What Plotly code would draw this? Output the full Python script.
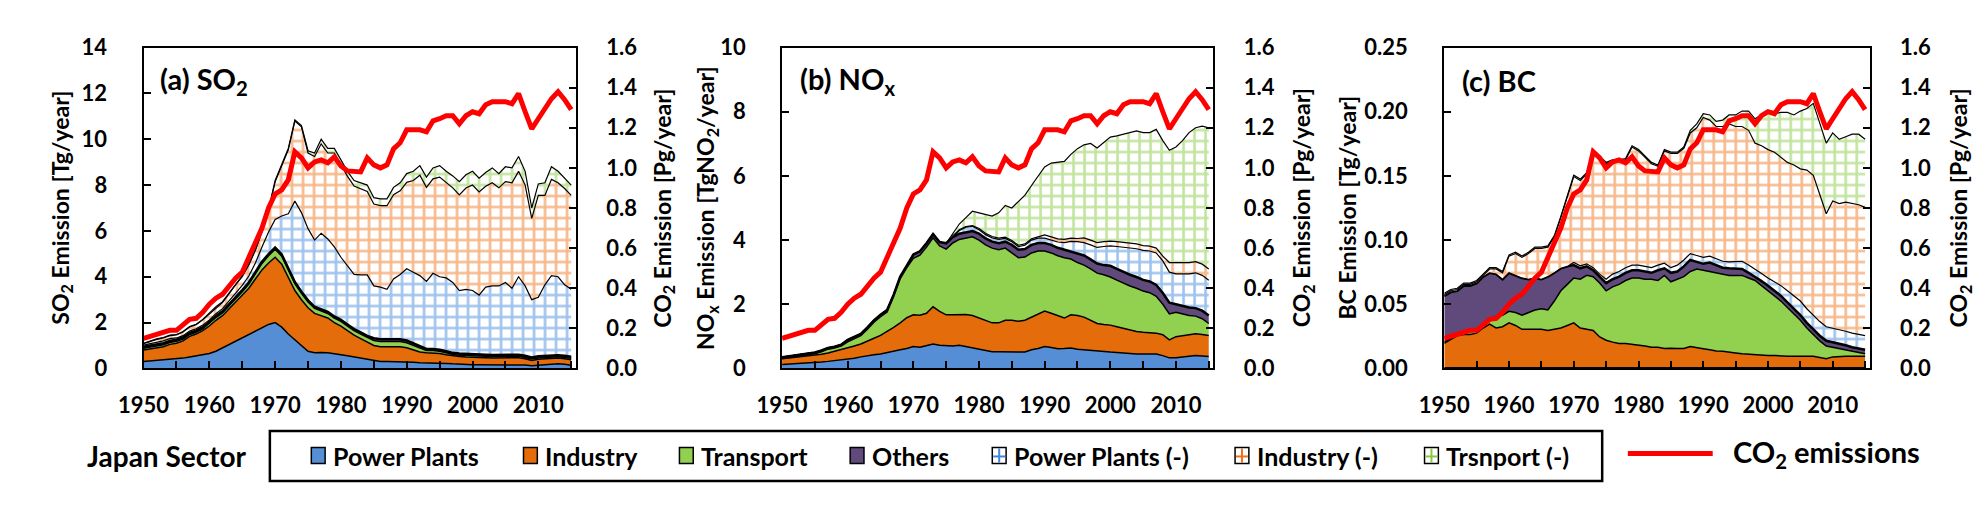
import plotly.graph_objects as go

# ---- data ----
years = list(range(1950, 2016))

# CO2 emissions, Pg/year (same curve in all three panels)
co2_pg = [0.15, 0.16, 0.17, 0.18, 0.19, 0.19, 0.215, 0.245, 0.25, 0.28,
          0.32, 0.35, 0.37, 0.41, 0.45, 0.48, 0.55, 0.62, 0.70, 0.80,
          0.87, 0.89, 0.94, 1.08, 1.05, 1.00, 1.03, 1.04, 1.025, 1.055,
          1.01, 0.985, 0.985, 0.98, 1.05, 1.015, 1.00, 1.015, 1.095, 1.125,
          1.19, 1.19, 1.19, 1.18, 1.235, 1.245, 1.26, 1.26, 1.22, 1.26,
          1.28, 1.27, 1.315, 1.33, 1.33, 1.33, 1.32, 1.37, 1.28, 1.195,
          1.245, 1.30, 1.345, 1.38, 1.34, 1.29]

# SO2, Tg/year
so2_power = [0.30, 0.32, 0.35, 0.38, 0.40, 0.42, 0.45, 0.50, 0.55, 0.60,
             0.65, 0.75, 0.90, 1.05, 1.20, 1.35, 1.50, 1.65, 1.80, 1.92,
             2.00, 1.80, 1.50, 1.25, 1.00, 0.75, 0.68, 0.70, 0.68, 0.65,
             0.60, 0.55, 0.50, 0.45, 0.40, 0.32, 0.30, 0.30, 0.30, 0.30,
             0.30, 0.27, 0.25, 0.25, 0.24, 0.23, 0.22, 0.20, 0.18, 0.17,
             0.16, 0.16, 0.16, 0.15, 0.15, 0.15, 0.15, 0.17, 0.15, 0.12,
             0.14, 0.15, 0.18, 0.20, 0.18, 0.14]
so2_industry = [0.50, 0.53, 0.55, 0.57, 0.65, 0.68, 0.75, 0.90, 0.95, 1.05,
                1.20, 1.35, 1.40, 1.55, 1.70, 1.85, 2.00, 2.25, 2.50, 2.68,
                2.85, 2.75, 2.50, 2.15, 2.00, 1.90, 1.72, 1.60, 1.52, 1.35,
                1.25, 1.10, 0.95, 0.85, 0.75, 0.68, 0.65, 0.65, 0.65, 0.65,
                0.60, 0.53, 0.47, 0.43, 0.44, 0.42, 0.38, 0.35, 0.34, 0.33,
                0.34, 0.32, 0.31, 0.31, 0.31, 0.30, 0.30, 0.30, 0.27, 0.23,
                0.26, 0.27, 0.27, 0.25, 0.24, 0.24]
so2_transport = [0.08, 0.08, 0.08, 0.08, 0.08, 0.08, 0.08, 0.08, 0.08, 0.08,
                 0.12, 0.12, 0.12, 0.12, 0.12, 0.15, 0.18, 0.22, 0.28, 0.32,
                 0.35, 0.35, 0.32, 0.30, 0.28, 0.25, 0.22, 0.20, 0.20, 0.20,
                 0.20, 0.20, 0.20, 0.20, 0.20, 0.22, 0.22, 0.22, 0.22, 0.22,
                 0.22, 0.20, 0.15, 0.10, 0.10, 0.10, 0.08, 0.06, 0.06, 0.06,
                 0.06, 0.06, 0.06, 0.06, 0.06, 0.06, 0.06, 0.06, 0.06, 0.06,
                 0.06, 0.06, 0.06, 0.06, 0.06, 0.06]
so2_others = [0.07, 0.07, 0.07, 0.07, 0.07, 0.07, 0.07, 0.07, 0.07, 0.07,
              0.07, 0.07, 0.07, 0.07, 0.07, 0.07, 0.07, 0.07, 0.07, 0.07,
              0.07, 0.07, 0.07, 0.07, 0.07, 0.07, 0.07, 0.07, 0.07, 0.07,
              0.07, 0.07, 0.07, 0.07, 0.07, 0.10, 0.10, 0.10, 0.10, 0.10,
              0.10, 0.10, 0.10, 0.07, 0.07, 0.07, 0.07, 0.07, 0.07, 0.07,
              0.07, 0.07, 0.07, 0.07, 0.07, 0.07, 0.07, 0.07, 0.07, 0.07,
              0.07, 0.07, 0.07, 0.07, 0.07, 0.07]
so2_power_neg = [0.07, 0.08, 0.09, 0.10, 0.10, 0.08, 0.08, 0.08, 0.08, 0.09,
                 0.08, 0.10, 0.12, 0.16, 0.21, 0.20, 0.28, 0.41, 0.65, 0.96,
                 1.23, 1.68, 2.36, 3.53, 3.45, 3.13, 2.91, 3.33, 3.18, 3.03,
                 2.73, 2.58, 2.38, 2.51, 2.66, 2.28, 2.28, 2.18, 2.63, 2.83,
                 3.13, 3.10, 3.08, 2.95, 3.30, 3.18, 3.20, 3.07, 2.75, 2.82,
                 2.77, 2.59, 2.95, 3.01, 3.01, 3.17, 2.92, 3.40, 3.05, 2.52,
                 2.57, 3.10, 3.47, 3.42, 3.10, 2.94]
so2_industry_neg = [0.06, 0.10, 0.13, 0.13, 0.13, 0.13, 0.16, 0.18, 0.18, 0.23,
                    0.26, 0.26, 0.26, 0.31, 0.36, 0.38, 0.48, 0.55, 0.65, 0.95,
                    1.64, 2.19, 2.79, 3.49, 3.74, 3.30, 3.65, 3.90, 3.75, 4.10,
                    4.05, 3.88, 3.86, 3.77, 3.64, 3.57, 3.55, 3.65, 3.68, 3.65,
                    3.77, 4.00, 4.38, 4.10, 4.12, 4.35, 4.15, 4.13, 4.17, 4.42,
                    4.60, 4.50, 4.40, 4.50, 4.28, 4.40, 4.60, 4.60, 4.40, 3.55,
                    4.45, 3.90, 4.20, 4.10, 4.20, 4.10]
so2_transport_neg = [0.02, 0.02, 0.02, 0.02, 0.02, 0.02, 0.02, 0.02, 0.02, 0.02,
                     0.04, 0.04, 0.04, 0.04, 0.04, 0.04, 0.04, 0.04, 0.04, 0.04,
                     0.06, 0.06, 0.06, 0.06, 0.06, 0.10, 0.15, 0.20, 0.20, 0.20,
                     0.20, 0.22, 0.24, 0.25, 0.28, 0.28, 0.30, 0.30, 0.32, 0.35,
                     0.38, 0.40, 0.42, 0.45, 0.48, 0.50, 0.50, 0.52, 0.58, 0.58,
                     0.60, 0.60, 0.60, 0.65, 0.62, 0.65, 0.65, 0.65, 0.60, 0.45,
                     0.50, 0.55, 0.55, 0.50, 0.45, 0.45]

# NOx, TgNO2/year
nox_power = [0.12, 0.13, 0.14, 0.15, 0.17, 0.18, 0.20, 0.22, 0.24, 0.26,
             0.28, 0.32, 0.36, 0.40, 0.43, 0.45, 0.50, 0.55, 0.58, 0.62,
             0.68, 0.66, 0.70, 0.76, 0.72, 0.70, 0.70, 0.72, 0.68, 0.65,
             0.60, 0.55, 0.52, 0.52, 0.51, 0.51, 0.51, 0.51, 0.58, 0.62,
             0.68, 0.65, 0.61, 0.62, 0.64, 0.60, 0.58, 0.56, 0.53, 0.52,
             0.51, 0.50, 0.48, 0.46, 0.45, 0.45, 0.44, 0.45, 0.40, 0.33,
             0.33, 0.35, 0.38, 0.40, 0.39, 0.37]
nox_industry = [0.18, 0.19, 0.20, 0.21, 0.21, 0.22, 0.24, 0.26, 0.29, 0.32,
                0.36, 0.38, 0.40, 0.44, 0.51, 0.58, 0.65, 0.73, 0.84, 0.96,
                0.99, 1.00, 1.02, 1.16, 1.06, 0.97, 0.97, 0.96, 1.00, 1.00,
                0.98, 0.95, 0.90, 0.90, 0.99, 0.99, 0.96, 0.99, 1.02, 1.07,
                1.11, 1.07, 1.04, 0.95, 1.03, 1.05, 1.02, 0.94, 0.87, 0.85,
                0.84, 0.80, 0.77, 0.74, 0.70, 0.68, 0.68, 0.65, 0.65, 0.56,
                0.66, 0.67, 0.68, 0.68, 0.67, 0.66]
nox_transport = [0.01, 0.02, 0.04, 0.05, 0.06, 0.06, 0.08, 0.12, 0.11, 0.12,
                 0.19, 0.22, 0.26, 0.38, 0.50, 0.58, 0.61, 0.96, 1.38, 1.56,
                 1.76, 1.87, 2.06, 2.15, 2.04, 2.05, 2.24, 2.34, 2.39, 2.45,
                 2.42, 2.35, 2.33, 2.28, 2.25, 2.10, 1.98, 1.97, 2.00, 1.97,
                 1.87, 1.88, 1.86, 1.88, 1.74, 1.65, 1.62, 1.60, 1.57, 1.55,
                 1.50, 1.45, 1.40, 1.37, 1.35, 1.28, 1.24, 1.15, 0.95, 0.81,
                 0.76, 0.68, 0.59, 0.55, 0.49, 0.37]
nox_others = [0.04, 0.04, 0.04, 0.04, 0.04, 0.04, 0.04, 0.04, 0.04, 0.04,
              0.06, 0.06, 0.06, 0.06, 0.06, 0.06, 0.06, 0.06, 0.06, 0.06,
              0.12, 0.12, 0.12, 0.12, 0.12, 0.18, 0.18, 0.18, 0.18, 0.18,
              0.20, 0.20, 0.20, 0.20, 0.20, 0.25, 0.25, 0.25, 0.25, 0.25,
              0.25, 0.25, 0.25, 0.25, 0.25, 0.30, 0.30, 0.30, 0.30, 0.30,
              0.35, 0.35, 0.35, 0.35, 0.35, 0.35, 0.35, 0.35, 0.35, 0.35,
              0.25, 0.25, 0.25, 0.25, 0.25, 0.25]
nox_power_neg = [0, 0, 0, 0, 0, 0, 0, 0, 0, 0,
                 0, 0, 0, 0, 0, 0, 0, 0, 0, 0,
                 0, 0, 0, 0, 0, 0, 0.02, 0.10, 0.15, 0.15,
                 0.12, 0.12, 0.12, 0.12, 0.10, 0.10, 0.10, 0.12, 0.15, 0.15,
                 0.15, 0.15, 0.18, 0.22, 0.30, 0.35, 0.40, 0.45, 0.50, 0.58,
                 0.62, 0.70, 0.78, 0.85, 0.88, 0.92, 0.95, 1.00, 1.00, 0.95,
                 0.95, 1.00, 1.05, 1.10, 1.10, 1.10]
nox_industry_neg = [0, 0, 0, 0, 0, 0, 0, 0, 0, 0,
                    0, 0, 0, 0, 0, 0, 0, 0, 0, 0,
                    0, 0, 0, 0, 0, 0, 0.02, 0.02, 0.02, 0.02,
                    0.04, 0.04, 0.04, 0.04, 0.04, 0.04, 0.04, 0.04, 0.04, 0.04,
                    0.10, 0.10, 0.10, 0.10, 0.10, 0.10, 0.15, 0.15, 0.15, 0.15,
                    0.15, 0.15, 0.15, 0.15, 0.15, 0.15, 0.15, 0.15, 0.15, 0.30,
                    0.35, 0.35, 0.35, 0.35, 0.35, 0.35]
nox_transport_neg = [0, 0, 0, 0, 0, 0, 0, 0, 0, 0,
                     0, 0, 0, 0, 0, 0, 0, 0, 0, 0,
                     0, 0, 0, 0, 0, 0, 0.07, 0.18, 0.28, 0.45,
                     0.49, 0.59, 0.64, 0.79, 0.99, 1.01, 1.36, 1.52, 1.66, 1.90,
                     2.12, 2.30, 2.38, 2.43, 2.61, 2.80, 2.90, 3.01, 2.95, 3.10,
                     3.24, 3.30, 3.37, 3.43, 3.52, 3.52, 3.54, 3.70, 3.60, 3.50,
                     3.60, 3.80, 4.05, 4.17, 4.30, 4.40]

# BC, Tg/year
bc_power = [0.0005, 0.0005, 0.0005, 0.0005, 0.0005, 0.0005, 0.0005, 0.0005, 0.0005, 0.0005,
            0.0005, 0.0005, 0.0005, 0.0005, 0.0005, 0.0005, 0.0005, 0.0005, 0.0005, 0.0005,
            0.0005, 0.0005, 0.0005, 0.0005, 0.0005, 0.0005, 0.0005, 0.0005, 0.0005, 0.0005,
            0.0005, 0.0005, 0.0005, 0.0005, 0.0005, 0.0005, 0.0005, 0.0005, 0.0005, 0.0005,
            0.0005, 0.0005, 0.0005, 0.0005, 0.0005, 0.0005, 0.0005, 0.0005, 0.0005, 0.0005,
            0.0005, 0.0005, 0.0005, 0.0005, 0.0005, 0.0005, 0.0005, 0.0005, 0.0005, 0.0005,
            0.0005, 0.0005, 0.0005, 0.0005, 0.0005, 0.0005]
bc_industry = [0.019, 0.022, 0.025, 0.026, 0.026, 0.027, 0.031, 0.034, 0.031, 0.032,
               0.035, 0.033, 0.030, 0.030, 0.030, 0.030, 0.029, 0.030, 0.031, 0.033,
               0.035, 0.031, 0.030, 0.029, 0.024, 0.0215, 0.020, 0.019, 0.019, 0.0185,
               0.018, 0.017, 0.016, 0.016, 0.015, 0.0153, 0.015, 0.015, 0.0166, 0.016,
               0.0149, 0.014, 0.013, 0.0129, 0.012, 0.0116, 0.011, 0.0105, 0.0104, 0.010,
               0.0095, 0.0095, 0.009, 0.009, 0.009, 0.009, 0.009, 0.009, 0.008, 0.007,
               0.0085, 0.009, 0.009, 0.009, 0.009, 0.009]
bc_transport = [0.001, 0.001, 0.001, 0.001, 0.002, 0.003, 0.003, 0.004, 0.009, 0.009,
                0.009, 0.010, 0.011, 0.013, 0.015, 0.016, 0.016, 0.022, 0.029, 0.032,
                0.035, 0.038, 0.042, 0.042, 0.042, 0.0385, 0.043, 0.046, 0.049, 0.0515,
                0.052, 0.052, 0.053, 0.052, 0.057, 0.0517, 0.054, 0.056, 0.0584, 0.061,
                0.0611, 0.061, 0.0605, 0.0601, 0.060, 0.0604, 0.061, 0.0595, 0.0576, 0.054,
                0.0505, 0.0465, 0.043, 0.038, 0.033, 0.028, 0.022, 0.017, 0.013, 0.010,
                0.0075, 0.006, 0.0045, 0.0035, 0.0025, 0.002]
bc_others = [0.036, 0.036, 0.034, 0.037, 0.036, 0.036, 0.037, 0.036, 0.033, 0.028,
             0.030, 0.029, 0.029, 0.026, 0.025, 0.023, 0.026, 0.022, 0.0175, 0.014,
             0.010, 0.0085, 0.007, 0.005, 0.005, 0.006, 0.006, 0.006, 0.006, 0.006,
             0.006, 0.006, 0.005, 0.008, 0.0055, 0.007, 0.006, 0.008, 0.009, 0.0055,
             0.005, 0.007, 0.0065, 0.005, 0.0055, 0.0055, 0.005, 0.004, 0.003, 0.0035,
             0.004, 0.004, 0.004, 0.004, 0.004, 0.004, 0.004, 0.004, 0.004, 0.004,
             0.004, 0.004, 0.004, 0.0035, 0.0035, 0.003]
bc_power_neg = [0, 0, 0, 0, 0, 0, 0, 0, 0, 0,
                0, 0, 0, 0, 0, 0, 0, 0, 0, 0,
                0.002, 0.002, 0.002, 0.002, 0.002, 0.003, 0.004, 0.004, 0.004, 0.004,
                0.004, 0.004, 0.004, 0.004, 0.004, 0.004, 0.005, 0.005, 0.005, 0.005,
                0.005, 0.005, 0.005, 0.005, 0.005, 0.005, 0.006, 0.006, 0.006, 0.006,
                0.006, 0.007, 0.008, 0.009, 0.010, 0.011, 0.011, 0.011, 0.011, 0.011,
                0.011, 0.011, 0.011, 0.011, 0.011, 0.011]
bc_industry_neg = [0.001, 0.001, 0.001, 0.001, 0.001, 0.001, 0.001, 0.003, 0.004, 0.005,
                   0.013, 0.017, 0.016, 0.020, 0.023, 0.024, 0.023, 0.028, 0.0395, 0.055,
                   0.067, 0.0665, 0.070, 0.091, 0.091, 0.090, 0.088, 0.086, 0.084, 0.092,
                   0.089, 0.085, 0.081, 0.077, 0.0875, 0.089, 0.087, 0.087, 0.094, 0.0995,
                   0.109, 0.106, 0.103, 0.105, 0.1075, 0.1055, 0.105, 0.105, 0.098, 0.0995,
                   0.100, 0.101, 0.100, 0.100, 0.102, 0.103, 0.108, 0.109, 0.099, 0.088,
                   0.099, 0.098, 0.1005, 0.101, 0.101, 0.100]
bc_transport_neg = [0.001, 0.001, 0.001, 0.001, 0.001, 0.001, 0.001, 0.001, 0.001, 0.001,
                    0.001, 0.001, 0.001, 0.001, 0.001, 0.001, 0.001, 0.001, 0.001, 0.001,
                    0.001, 0.001, 0.001, 0.001, 0.001, 0.001, 0.001, 0.001, 0.001, 0.001,
                    0.001, 0.001, 0.001, 0.001, 0.001, 0.001, 0.001, 0.001, 0.002, 0.003,
                    0.003, 0.004, 0.004, 0.005, 0.007, 0.009, 0.012, 0.015, 0.019, 0.024,
                    0.030, 0.030, 0.035, 0.039, 0.039, 0.045, 0.048, 0.056, 0.055, 0.055,
                    0.053, 0.050, 0.051, 0.054, 0.055, 0.053]

sector_names = ["Power Plants", "Industry", "Transport", "Others",
                "Power Plants (-)", "Industry (-)", "Trsnport (-)"]

# ---- styling ----
W, H = 1985, 505
FONT = "Lato"
FILL_COLORS = ["#558ED5", "#E46C0A", "#92D050", "#604A7B"]
HATCH_COLORS = ["#3F86DC", "#EE7218", "#86C940"]
CO2_RED = "#FF0000"


def px(x):
    return x / W


def py(y):
    return 1 - y / H


Y_DOMAIN = [py(366), py(27)]

panels = [
    dict(key="a", x="x", y="y", y2="y2", dom=[111, 549], ymax=14, dtick=2, fmt="d",
         series=[so2_power, so2_industry, so2_transport, so2_others,
                 so2_power_neg, so2_industry_neg, so2_transport_neg],
         label="(a) SO<sub>2</sub>", ytitle="SO<sub>2</sub> Emission [Tg/year]",
         lab_x=126, yt_x=28, y2t_x=638),
    dict(key="b", x="x2", y="y3", y2="y4", dom=[758, 1195], ymax=10, dtick=2, fmt="d",
         series=[nox_power, nox_industry, nox_transport, nox_others,
                 nox_power_neg, nox_industry_neg, nox_transport_neg],
         label="(b) NO<sub>x</sub>", ytitle="NO<sub>x</sub> Emission [TgNO<sub>2</sub>/year]",
         lab_x=774, yt_x=682, y2t_x=1286),
    dict(key="c", x="x3", y="y5", y2="y6", dom=[1429, 1860], ymax=0.25, dtick=0.05, fmt=".2f",
         series=[bc_power, bc_industry, bc_transport, bc_others,
                 bc_power_neg, bc_industry_neg, bc_transport_neg],
         label="(c) BC", ytitle="BC Emission [Tg/year]",
         lab_x=1445, yt_x=1330, y2t_x=1952),
]

fig = go.Figure()

for p in panels:
    for i, vals in enumerate(p["series"]):
        tr = dict(x=years, y=vals, xaxis=p["x"], yaxis=p["y"], stackgroup="s" + p["key"],
                  mode="lines", name=sector_names[i], showlegend=False, hoverinfo="skip")
        if i < 4:
            tr["fillcolor"] = FILL_COLORS[i]
            tr["line"] = dict(color="black", width=2.5 if i == 3 else 1.5)
        else:
            tr["fillcolor"] = "white"
            tr["fillpattern"] = dict(shape="+", fgcolor=HATCH_COLORS[i - 4], bgcolor="white",
                                     size=11, solidity=0.42)
            tr["line"] = dict(color="black", width=1.2)
        fig.add_trace(go.Scatter(**tr))
    fig.add_trace(go.Scatter(x=years, y=co2_pg, xaxis=p["x"], yaxis=p["y2"], mode="lines",
                             name="CO2 emissions", showlegend=False, hoverinfo="skip",
                             line=dict(color=CO2_RED, width=5)))

tick_font = dict(family=FONT, size=22, color="black", weight="bold")
common = dict(showline=True, linecolor="black", linewidth=2, ticks="inside", ticklen=7,
              tickwidth=1.5, tickcolor="black", showgrid=False, zeroline=False,
              tickfont=tick_font)

layout = {}
for p in panels:
    xname = "xaxis" + p["x"][1:]
    yname = "yaxis" + p["y"][1:]
    y2name = "yaxis" + p["y2"][1:]
    layout[xname] = dict(common, domain=[px(p["dom"][0]), px(p["dom"][1])], anchor=p["y"],
                         range=[1950, 2015.7], tick0=1950, dtick=10, mirror=True,
                         ticklabelstandoff=16,
                         minor=dict(dtick=5, tick0=1950, ticks="inside", ticklen=7,
                                    tickwidth=1.5, tickcolor="black"))
    layout[yname] = dict(common, domain=Y_DOMAIN, anchor=p["x"], range=[0, p["ymax"]],
                         tick0=0, dtick=p["dtick"], tickformat=p["fmt"], mirror=True,
                         ticklabelstandoff=30)
    layout[y2name] = dict(common, overlaying=p["y"], side="right", anchor=p["x"],
                          range=[0, 1.6], tick0=0, dtick=0.2, tickformat=".1f",
                          ticklabelstandoff=24)

annotations = []
title_font = dict(family=FONT, size=23, color="black", weight="bold")
yc = py((27 + 366) / 2)
for p in panels:
    annotations.append(dict(x=px(p["lab_x"]), y=py(62), xref="paper", yref="paper",
                            text=p["label"], showarrow=False, xanchor="left", yanchor="middle",
                            font=dict(family=FONT, size=29, color="black", weight="bold")))
    annotations.append(dict(x=px(p["yt_x"]), y=yc, xref="paper", yref="paper",
                            text=p["ytitle"], textangle=-90, showarrow=False,
                            xanchor="center", yanchor="middle", font=title_font))
    annotations.append(dict(x=px(p["y2t_x"]), y=yc, xref="paper", yref="paper",
                            text="CO<sub>2</sub> Emission [Pg/year]", textangle=-90,
                            showarrow=False, xanchor="center", yanchor="middle",
                            font=title_font))

# ---- legend row (drawn by hand: box, swatches, labels) ----
shapes = [dict(type="rect", xref="paper", yref="paper", x0=px(239), x1=px(1589),
               y0=py(485), y1=py(432), line=dict(color="black", width=2.5))]
leg_y = 458
sym_x = [281, 496, 654, 827, 971, 1217, 1409]
leg_font = dict(family=FONT, size=25, color="black", weight="bold")
for i, sx in enumerate(sym_x):
    if i < 4:
        shapes.append(dict(type="rect", xref="paper", yref="paper",
                           x0=px(sx), x1=px(sx + 14), y0=py(leg_y + 8.5), y1=py(leg_y - 8.5),
                           fillcolor=FILL_COLORS[i], line=dict(color="black", width=1.5)))
    else:
        col = HATCH_COLORS[i - 4]
        shapes.append(dict(type="rect", xref="paper", yref="paper",
                           x0=px(sx), x1=px(sx + 14), y0=py(leg_y + 8.5), y1=py(leg_y - 8.5),
                           fillcolor="white", line=dict(color="black", width=1.5)))
        shapes.append(dict(type="line", xref="paper", yref="paper",
                           x0=px(sx + 7), x1=px(sx + 7), y0=py(leg_y + 7.5), y1=py(leg_y - 7.5),
                           line=dict(color=col, width=2)))
        shapes.append(dict(type="line", xref="paper", yref="paper",
                           x0=px(sx + 1), x1=px(sx + 13), y0=py(leg_y + 1), y1=py(leg_y + 1),
                           line=dict(color=col, width=2)))
    annotations.append(dict(x=px(sx + 20), y=py(leg_y), xref="paper", yref="paper",
                            text=sector_names[i], showarrow=False, xanchor="left",
                            yanchor="middle", font=leg_font))

shapes.append(dict(type="line", xref="paper", yref="paper", x0=px(1615), x1=px(1701),
                   y0=py(456), y1=py(456), line=dict(color=CO2_RED, width=5)))
annotations.append(dict(x=px(1720), y=py(456), xref="paper", yref="paper",
                        text="CO<sub>2</sub> emissions", showarrow=False, xanchor="left",
                        yanchor="middle",
                        font=dict(family=FONT, size=29, color="black", weight="bold")))
annotations.append(dict(x=px(135), y=py(458), xref="paper", yref="paper",
                        text="Japan Sector", showarrow=False, xanchor="center",
                        yanchor="middle",
                        font=dict(family=FONT, size=28, color="black", weight="bold")))

fig.update_layout(width=W, height=H, margin=dict(l=0, r=0, t=0, b=0),
                  paper_bgcolor="white", plot_bgcolor="white", showlegend=False,
                  annotations=annotations, shapes=shapes, **layout)

fig.write_html("out.html")
